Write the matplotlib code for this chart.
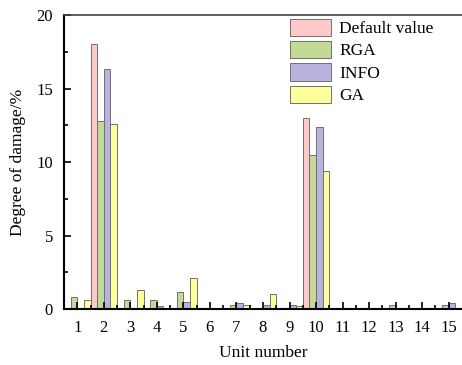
import matplotlib.pyplot as plt
import numpy as np

units = np.arange(1, 16)
default_value = [0.05, 18.0, 0.0, 0.0, 0.0, 0.0, 0.0, 0.0, 0.0, 13.0, 0.0, 0.0, 0.0, 0.0, 0.0]
rga = [0.8, 12.8, 0.6, 0.6, 1.2, 0.1, 0.3, 0.1, 0.1, 10.5, 0.0, 0.1, 0.3, 0.0, 0.3]
info = [0.1, 16.3, 0.05, 0.2, 0.5, 0.1, 0.4, 0.3, 0.3, 12.4, 0.0, 0.0, 0.05, 0.0, 0.4]
ga = [0.6, 12.6, 1.3, 0.1, 2.1, 0.1, 0.3, 1.0, 0.2, 9.4, 0.0, 0.0, 0.0, 0.0, 0.0]

series = [("Default value", default_value, "#ffc9c9"),
          ("RGA", rga, "#c3d996"),
          ("INFO", info, "#b8b2e0"),
          ("GA", ga, "#ffff99")]

plt.rcParams['font.family'] = ['Liberation Serif', 'DejaVu Serif']

fig = plt.figure(figsize=(4.62, 3.65), dpi=100)
ax = fig.add_axes([0.1385, 0.153, 0.8615, 0.806])

w = 0.25
for i, (name, vals, col) in enumerate(series):
    ax.bar(units + (i - 1.5) * w, vals, width=w, color=col,
           edgecolor="#707070", linewidth=0.7, label=name)

ax.set_xlim(0.5, 15.5)
ax.set_ylim(0, 20)
ax.set_xticks(units)
ax.set_xticks(np.arange(1.5, 15.5, 1), minor=True)
ax.set_yticks([0, 5, 10, 15, 20])
ax.set_yticks([2.5, 7.5, 12.5, 17.5], minor=True)
ax.tick_params(which='major', direction='in', length=5, width=1.2, labelsize=12,
               top=False, right=False)
ax.tick_params(which='minor', direction='in', length=3, width=1.2,
               top=False, right=False)
ax.tick_params(axis='y', pad=8)
ax.tick_params(axis='x', pad=8)

for s in ['left', 'bottom']:
    ax.spines[s].set_linewidth(1.5)
ax.spines['top'].set_linewidth(1.2)
ax.spines['top'].set_color('#444444')
ax.spines['right'].set_visible(False)

ax.set_xlabel('Unit number', fontsize=12.5, labelpad=6)
ax.set_ylabel('Degree of damage/%', fontsize=12.5, labelpad=7)

ax.legend(loc='upper left', bbox_to_anchor=(281 / 462, 1 - 10 / 365),
          bbox_transform=fig.transFigure, frameon=False, borderpad=0,
          fontsize=12.5, handlelength=2.4, handleheight=1.15,
          labelspacing=0.22, handletextpad=0.45)

fig.savefig('out.png', dpi=100)
